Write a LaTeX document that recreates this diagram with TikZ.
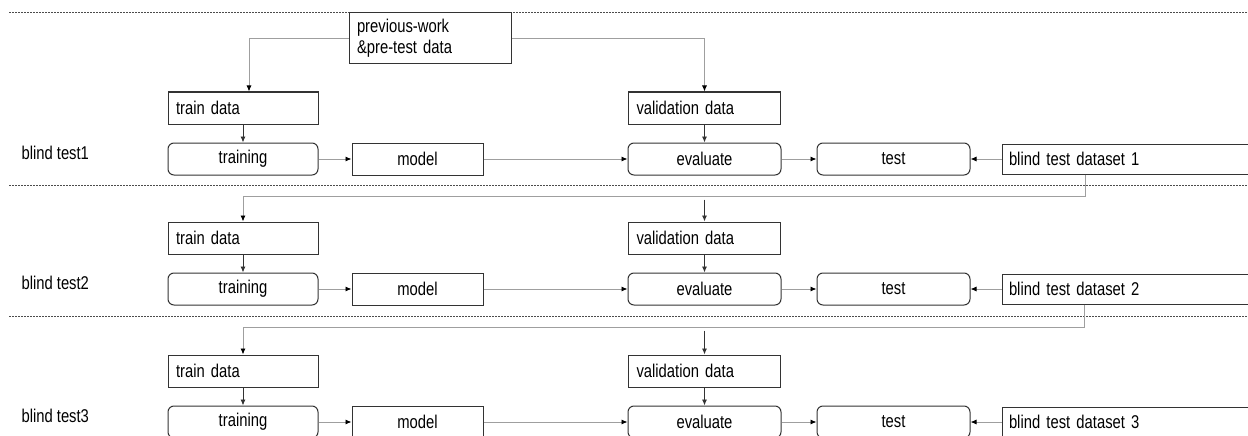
\documentclass[tikz,border=0pt]{standalone}
\usepackage{fontspec}
\setmainfont{Liberation Sans}[FakeStretch=0.8]
\usetikzlibrary{arrows.meta,positioning}

\begin{document}
\begin{tikzpicture}[
    x=1pt, y=-1pt,
    font=\fontsize{18.5}{21}\selectfont,
    databox/.style={draw=black!80, line width=1pt, text width=136pt, inner xsep=8pt, inner ysep=0pt, minimum height=32pt, align=left},
    procbox/.style={draw=black!80, line width=1pt, rounded corners=6pt, minimum width=153pt, minimum height=32pt, inner sep=0pt},
    modelbox/.style={draw=black!80, line width=1pt, minimum width=131pt, minimum height=32pt, inner sep=0pt},
    setbox/.style={draw=black!80, line width=1pt, text width=250pt, inner xsep=7pt, inner ysep=0pt, minimum height=30pt, align=left},
    conn/.style={draw=gray!75, line width=0.9pt, -{Latex[length=6pt,width=5pt,color=black]}},
    drop/.style={draw=black!80, line width=0.9pt, -{Latex[length=6pt,width=5pt]}},
    sepline/.style={draw=black!70, line width=0.8pt, dash pattern=on 1.5pt off 1.5pt}
  ]
    \clip (0,0) rectangle (1248,436);

    % Separators
    \foreach \yy in {12,185,316} {
      \draw[sepline] (9,\yy) -- (1248,\yy);
    }

    % Source data
    \node[databox, text width=146pt, minimum height=51pt] (prev) at (430,38.5) {previous-work\\\&pre-test data};

    % One row per blind test
    \foreach \r/\yy in {1/159, 2/289, 3/422} {
      \node[anchor=west] (lbl\r) at (18,\yy-6) {blind test\r};
      \node[procbox, minimum width=150pt] (training\r) at (243,\yy) {training};
      \node[modelbox, right=33pt of training\r] (model\r) {model};
      \node[procbox, right=144pt of model\r] (eval\r) {evaluate};
      \node[procbox, right=35pt of eval\r] (test\r) {test};
      \node[setbox, right=31pt of test\r] (set\r) {blind test dataset \r};
      \node[databox, text width=134pt, above=18pt of training\r] (train\r) {train data};
      \node[databox, above=18pt of eval\r] (valid\r) {validation data};

      \draw[drop] (train\r) -- (training\r);
      \draw[drop] (valid\r) -- (eval\r);
      \draw[conn] (training\r) -- (model\r);
      \draw[conn] (model\r) -- (eval\r);
      \draw[conn] (eval\r) -- (test\r);
      \draw[conn] (set\r) -- (test\r);
    }

    % Feeding the first row
    \draw[conn] (prev.west) -| ([xshift=6pt]train1.north);
    \draw[conn] (prev.east) -| (valid1.north);

    % Hand-over between rows
    \coordinate (bus2) at ([yshift=25pt]valid2.north);
    \coordinate (bus3) at ([yshift=27pt]valid3.north);
    \draw[conn] ([xshift=84pt]set1.south west) |- (bus2) -| (train2.north);
    \draw[drop, shorten <=3pt] (bus2) -- (valid2.north);
    \draw[conn] ([xshift=83pt]set2.south west) |- (bus3) -| (train3.north);
    \draw[drop, shorten <=3pt] (bus3) -- (valid3.north);
  \end{tikzpicture}
\end{document}
